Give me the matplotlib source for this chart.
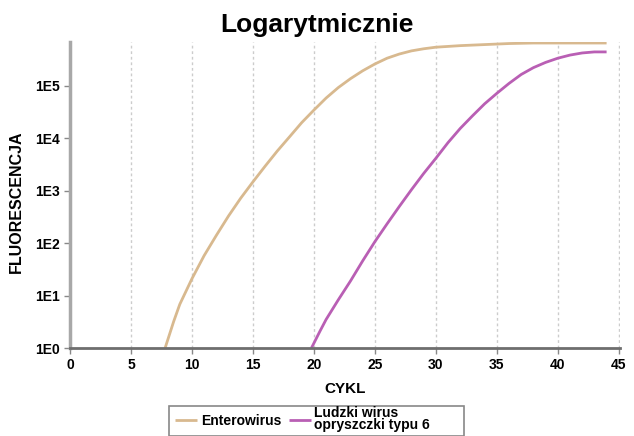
import matplotlib
matplotlib.use("Agg")
import matplotlib.pyplot as plt
from matplotlib.patches import Rectangle
from matplotlib.ticker import FixedLocator, FixedFormatter, NullLocator

plt.rcParams['font.family'] = ['Liberation Sans', 'DejaVu Sans']

title = "Logarytmicznie"
xlabel = "CYKL"
ylabel = "FLUORESCENCJA"

ent_label = "Enterowirus"
ent_cycles = [7.8, 8.5, 9, 10, 11, 12, 13, 14, 15, 16, 17, 18, 19, 20, 21, 22, 23, 24, 25,
              26, 27, 28, 29, 30, 32, 34, 36, 38, 44]
ent_fluor = [1, 3.2, 6.8, 21, 58, 141, 331, 724, 1480, 2950, 5750, 10700, 20000, 34700,
             58900, 93300, 138000, 195000, 263000, 339000, 407000, 468000, 513000, 550000,
             589000, 617000, 646000, 661000, 661000]

hhv_label = "Ludzki wirus\nopryszczki typu 6"
hhv_cycles = [19.8, 20.5, 21, 22, 23, 24, 25, 26, 27, 28, 29, 30, 31, 32, 33, 34, 35, 36,
              37, 38, 39, 40, 41, 42, 43, 44]
hhv_fluor = [1, 2.1, 3.5, 8.3, 19, 46, 107, 234, 501, 1050, 2140, 4170, 8320, 15500, 26900,
             45700, 72400, 112000, 166000, 224000, 282000, 339000, 389000, 427000, 447000,
             447000]

xticks = [0, 5, 10, 15, 20, 25, 30, 35, 40, 45]
yticks = [1, 10, 100, 1000, 10000, 100000]
ytick_labels = ["1E0", "1E1", "1E2", "1E3", "1E4", "1E5"]

W, H = 634, 436
fig = plt.figure(figsize=(W/100, H/100), dpi=100)
ax = fig.add_axes([70/W, 1-348/H, 550/W, (348-42.5)/H])

ax.plot(ent_cycles, ent_fluor, color="#d8b98f", lw=2, label=ent_label, solid_capstyle='butt')
ax.plot(hhv_cycles, hhv_fluor, color="#b95fb4", lw=2, label=hhv_label, solid_capstyle='butt')

ax.set_yscale('log')
ax.set_xlim(0, 45.1)
ax.set_ylim(1, 10**5.83)

ax.yaxis.set_major_locator(FixedLocator(yticks))
ax.yaxis.set_major_formatter(FixedFormatter(ytick_labels))
ax.yaxis.set_minor_locator(NullLocator())
ax.set_xticks(xticks)

for v in xticks[1:]:
    ax.axvline(v, color="#cccccc", lw=1, ls=(0, (2, 2)), zorder=0)

for s in ['top', 'right']:
    ax.spines[s].set_visible(False)
ax.spines['left'].set_color("#a8a8a8")
ax.spines['left'].set_linewidth(2.5)
ax.spines['bottom'].set_color("#6e6e6e")
ax.spines['bottom'].set_linewidth(2)
ax.spines['bottom'].set_zorder(3)
ax.spines['left'].set_zorder(3)

ax.tick_params(axis='both', colors="#888888", length=4, width=1, labelcolor='black', labelsize=10)
for lab in ax.get_xticklabels() + ax.get_yticklabels():
    lab.set_fontweight('bold')

ax.set_xlabel(xlabel, fontsize=11, fontweight='bold', labelpad=7)
ax.set_ylabel(ylabel, fontsize=11.5, fontweight='bold')
ax.yaxis.set_label_coords(-0.083, 0.478)

fig.text(0.5, 1-32/H, title, ha='center', va='baseline', fontsize=19, fontweight='bold')

leg = fig.legend(loc='upper left', bbox_to_anchor=(175/W, 1-406/H), ncol=2,
                 frameon=False, handlelength=1.6,
                 handletextpad=0.25, columnspacing=0.55, borderpad=0, borderaxespad=0,
                 prop={'weight': 'bold', 'size': 10})
for t in leg.get_texts():
    t.set_linespacing(0.82)
fig.patches.append(Rectangle((169/W, 1-435.5/H), (464-169)/W, 30/H, transform=fig.transFigure,
                             fill=False, edgecolor="#888888", lw=1.2))

fig.savefig("out.png", dpi=100)
